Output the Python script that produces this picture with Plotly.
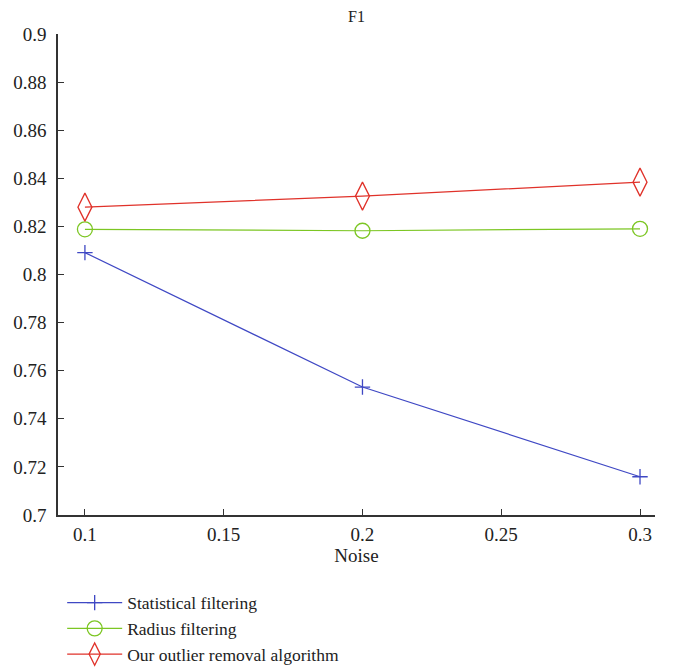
import plotly.graph_objects as go

noise = [0.1, 0.2, 0.3]
statistical = [0.8091, 0.7532, 0.7159]
radius = [0.8188, 0.8182, 0.8190]
ours = [0.8280, 0.8326, 0.8384]

series_names = ["Statistical filtering", "Radius filtering", "Our outlier removal algorithm"]
colors = ["#3f48c4", "#7cc623", "#e0322a"]
symbols = ["cross-thin-open", "circle-open", "diamond-tall-open"]
sizes = [11, 15, 20]

x_ticks = [0.1, 0.15, 0.2, 0.25, 0.3]
x_ticklabels = ["0.1", "0.15", "0.2", "0.25", "0.3"]
y_ticks = [0.7, 0.72, 0.74, 0.76, 0.78, 0.8, 0.82, 0.84, 0.86, 0.88, 0.9]
y_ticklabels = ["0.7", "0.72", "0.74", "0.76", "0.78", "0.8", "0.82", "0.84", "0.86", "0.88", "0.9"]

fig = go.Figure()
for name, vals, c, s, sz in zip(series_names, [statistical, radius, ours], colors, symbols, sizes):
    fig.add_trace(go.Scatter(
        x=noise, y=vals, name=name, mode="lines+markers",
        line=dict(color=c, width=1.2),
        marker=dict(symbol=s, size=sz, color=c, line=dict(color=c, width=1.3)),
    ))

font = "Liberation Serif, Times New Roman, serif"
fig.update_layout(
    width=672, height=700,
    margin=dict(l=50, r=25, t=26, b=193),
    paper_bgcolor="white", plot_bgcolor="white",
    font=dict(family=font, size=19, color="#222"),
    title=dict(text="F1", x=0.5, xref="paper", y=1 - 8 / 700, yanchor="middle", font=dict(size=16)),
    showlegend=True,
    legend=dict(x=0.007, xanchor="left", y=-0.145, yanchor="top", bgcolor="rgba(0,0,0,0)",
                font=dict(size=17.5), tracegroupgap=0, itemwidth=55),
    xaxis=dict(range=[0.0903, 0.3054], tickvals=x_ticks, ticktext=x_ticklabels, automargin=False,
               showgrid=False, zeroline=False, showline=True, linecolor="#333", linewidth=1.5,
               ticks="inside", ticklen=6, tickcolor="#333", mirror=False, ticklabelstandoff=1,
               title=dict(text="Noise", standoff=2, font=dict(size=19))),
    yaxis=dict(range=[0.7, 0.9], tickvals=y_ticks, ticktext=y_ticklabels, automargin=False,
               showgrid=False, zeroline=False, showline=True, linecolor="#333", linewidth=1.5,
               ticks="inside", ticklen=6, tickcolor="#333", mirror=False, ticklabelstandoff=6),
)
fig.write_html("out.html")
